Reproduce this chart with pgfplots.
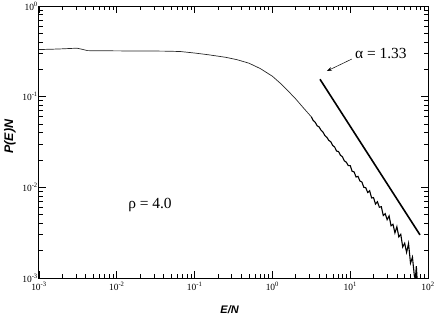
\documentclass[border=0pt]{standalone}
\usepackage{fontspec}
\setmainfont{Liberation Serif}
\newfontfamily\arialfont{Liberation Sans}
\usepackage{pgfplots}
\pgfplotsset{compat=1.18}
\usetikzlibrary{arrows.meta}
\begin{document}
\begin{tikzpicture}
\begin{axis}[name=ax, scale only axis, width=389bp, height=272bp,
 xmode=log, ymode=log, xmin=1e-3, xmax=1e2, ymin=1e-3, ymax=1,
 xtick={1e-3,1e-2,1e-1,1,10,100},
 xticklabels={10\textsuperscript{-3},10\textsuperscript{-2},10\textsuperscript{-1},10\textsuperscript{0},10\textsuperscript{1},10\textsuperscript{2}},
 ytick={1e-3,1e-2,1e-1,1},
 yticklabels={10\textsuperscript{-3},10\textsuperscript{-2},10\textsuperscript{-1},10\textsuperscript{0}},
 ticklabel style={font=\fontsize{9.5}{10}\selectfont},
 xticklabel style={yshift=-1bp},
 yticklabel style={inner sep=1pt},
 major tick length=7bp, minor tick length=4bp,
 tick style={black, line width=0.8bp},
 axis line style={line width=1bp},
 xlabel={E/N}, ylabel={P(E)N},
 xlabel style={font=\arialfont\bfseries\itshape\fontsize{11}{12}\selectfont, at={(axis description cs:0.49,-0.118)}, anchor=center},
 ylabel style={font=\arialfont\bfseries\itshape\fontsize{12.5}{13}\selectfont, at={(axis description cs:-0.075,0.52)}, anchor=center},
]
\addplot[black!85, line width=0.7bp] table {
x y
0.001 0.331
0.0015 0.334
0.002 0.337
0.0027 0.341
0.0031 0.342
0.0036 0.333
0.0042 0.322
0.006 0.321
0.01 0.320
0.02 0.319
0.04 0.318
0.065 0.315
0.1 0.303
0.15 0.290
0.25 0.272
0.35 0.256
0.5 0.234
0.7 0.204
1.0 0.168
1.259 0.141
1.585 0.116
1.995 0.0944
2.512 0.0750
3.162 0.0600
};
\addplot[black, line width=1.1bp] table {
x y
3.162 0.06000
3.350 0.05457
3.548 0.05227
3.758 0.04780
3.981 0.04638
4.217 0.04267
4.467 0.04072
4.732 0.03718
5.012 0.03561
5.309 0.03294
5.623 0.03184
5.957 0.02896
6.310 0.02785
6.683 0.02515
7.079 0.02481
7.499 0.02259
7.943 0.02174
8.414 0.01957
8.913 0.01894
9.441 0.01739
10.00 0.01738
10.59 0.01503
11.22 0.01481
11.89 0.01300
12.59 0.01321
13.34 0.01175
14.13 0.01147
14.96 0.01002
15.85 0.009908
16.79 0.00877
17.78 0.009173
18.84 0.007638
19.95 0.007709
21.13 0.006546
22.39 0.006942
23.71 0.006026
25.12 0.006124
26.61 0.004892
28.18 0.005117
29.85 0.004395
31.62 0.004842
33.50 0.003767
35.48 0.003917
37.58 0.003144
39.81 0.003681
42.17 0.002844
44.67 0.003034
47.32 0.002198
50.12 0.002421
53.09 0.001919
56.23 0.002399
59.57 0.001462
63.10 0.001698
66.83 0.001047
68.80 0.00098
70.79 0.001349
72.40 0.00099
};
\addplot[black, line width=1.6bp] coordinates {(4.09,0.1556) (78.9,0.00299)};
\addplot[black, line width=0.5bp, -{Stealth[length=5bp,width=3.5bp]}] coordinates {(10.5,0.26) (5.03,0.192)};
\node[anchor=west, inner sep=0pt, font=\fontsize{15.5}{16}\selectfont] at (axis cs:11.5,0.296) {α = 1.33};
\node[anchor=center, inner sep=0pt, font=\fontsize{15.5}{16}\selectfont] at (axis cs:0.0267,0.0064) {ρ = 4.0};
\end{axis}
\pgfresetboundingbox
\path[use as bounding box] ([xshift=-39bp,yshift=-38bp]ax.south west) rectangle ++(436bp,316bp);
\end{tikzpicture}
\end{document}
